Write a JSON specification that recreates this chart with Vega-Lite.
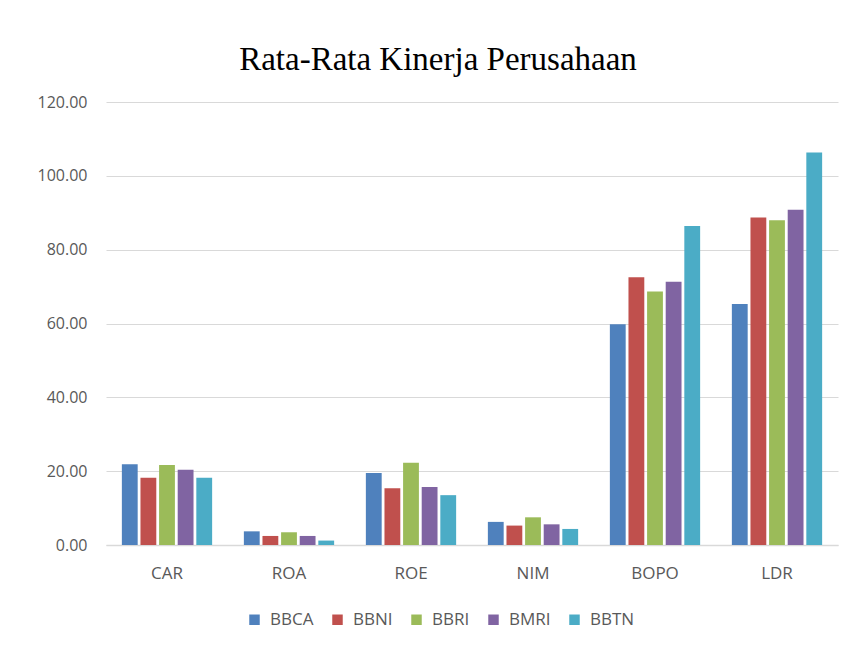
{
  "$schema": "https://vega.github.io/schema/vega-lite/v6.json",
  "autosize": {"type": "none"},
  "width": 732,
  "height": 443,
  "padding": {"left": 106, "top": 102, "right": 15, "bottom": 103},
  "background": "white",
  "title": {
    "text": "Rata-Rata Kinerja Perusahaan",
    "font": "Liberation Serif",
    "fontSize": 33,
    "fontWeight": "normal",
    "color": "#000000",
    "anchor": "middle",
    "baseline": "alphabetic",
    "dx": -34,
    "dy": 33,
    "offset": 24
  },
  "data": {
    "values": [
      {"metric": "CAR", "bank": "BBCA", "value": 21.9},
      {"metric": "CAR", "bank": "BBNI", "value": 18.2},
      {"metric": "CAR", "bank": "BBRI", "value": 21.7},
      {"metric": "CAR", "bank": "BMRI", "value": 20.4},
      {"metric": "CAR", "bank": "BBTN", "value": 18.2},
      {"metric": "ROA", "bank": "BBCA", "value": 3.7},
      {"metric": "ROA", "bank": "BBNI", "value": 2.45},
      {"metric": "ROA", "bank": "BBRI", "value": 3.45},
      {"metric": "ROA", "bank": "BMRI", "value": 2.45},
      {"metric": "ROA", "bank": "BBTN", "value": 1.2},
      {"metric": "ROE", "bank": "BBCA", "value": 19.5},
      {"metric": "ROE", "bank": "BBNI", "value": 15.4},
      {"metric": "ROE", "bank": "BBRI", "value": 22.3},
      {"metric": "ROE", "bank": "BMRI", "value": 15.7},
      {"metric": "ROE", "bank": "BBTN", "value": 13.5},
      {"metric": "NIM", "bank": "BBCA", "value": 6.26},
      {"metric": "NIM", "bank": "BBNI", "value": 5.26},
      {"metric": "NIM", "bank": "BBRI", "value": 7.5},
      {"metric": "NIM", "bank": "BMRI", "value": 5.6},
      {"metric": "NIM", "bank": "BBTN", "value": 4.35},
      {"metric": "BOPO", "bank": "BBCA", "value": 59.8},
      {"metric": "BOPO", "bank": "BBNI", "value": 72.5},
      {"metric": "BOPO", "bank": "BBRI", "value": 68.7},
      {"metric": "BOPO", "bank": "BMRI", "value": 71.3},
      {"metric": "BOPO", "bank": "BBTN", "value": 86.4},
      {"metric": "LDR", "bank": "BBCA", "value": 65.3},
      {"metric": "LDR", "bank": "BBNI", "value": 88.7},
      {"metric": "LDR", "bank": "BBRI", "value": 88.0},
      {"metric": "LDR", "bank": "BMRI", "value": 90.8},
      {"metric": "LDR", "bank": "BBTN", "value": 106.3}
    ]
  },
  "mark": {"type": "bar"},
  "encoding": {
    "x": {
      "field": "metric",
      "type": "nominal",
      "sort": ["CAR", "ROA", "ROE", "NIM", "BOPO", "LDR"],
      "scale": {"paddingInner": 0.26, "paddingOuter": 0.13},
      "axis": {
        "title": null,
        "labelAngle": 0,
        "ticks": false,
        "domainColor": "#d9d9d9",
        "domainWidth": 1.5,
        "labelFont": "Open Sans",
        "labelFontSize": 17,
        "labelColor": "#595959",
        "labelPadding": 20
      }
    },
    "xOffset": {
      "field": "bank",
      "type": "nominal",
      "sort": ["BBCA", "BBNI", "BBRI", "BMRI", "BBTN"],
      "scale": {"paddingInner": 0.15}
    },
    "y": {
      "field": "value",
      "type": "quantitative",
      "scale": {"domain": [0, 120], "nice": false},
      "axis": {
        "title": null,
        "values": [0, 20, 40, 60, 80, 100, 120],
        "format": ".2f",
        "domain": false,
        "ticks": false,
        "gridColor": "#d9d9d9",
        "gridWidth": 1.2,
        "labelFont": "Open Sans",
        "labelFontSize": 16,
        "labelColor": "#595959",
        "labelPadding": 19
      }
    },
    "color": {
      "field": "bank",
      "type": "nominal",
      "sort": ["BBCA", "BBNI", "BBRI", "BMRI", "BBTN"],
      "scale": {
        "domain": ["BBCA", "BBNI", "BBRI", "BMRI", "BBTN"],
        "range": ["#4F81BD", "#C0504D", "#9BBB59", "#8064A2", "#4BACC6"]
      },
      "legend": {
        "title": null,
        "orient": "none",
        "direction": "horizontal",
        "legendX": 140,
        "legendY": 509,
        "symbolType": "square",
        "symbolSize": 110,
        "symbolStrokeWidth": 0,
        "labelFont": "Open Sans",
        "labelFontSize": 17,
        "labelColor": "#595959",
        "columnPadding": 15,
        "labelOffset": 7
      }
    }
  },
  "config": {
    "view": {"stroke": null}
  }
}
